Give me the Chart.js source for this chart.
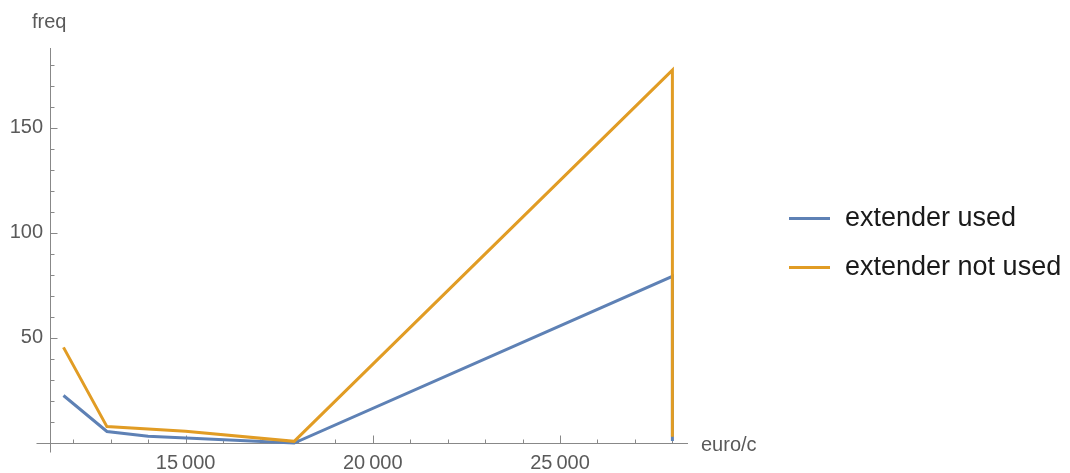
<!DOCTYPE html>
<html>
<head>
<meta charset="utf-8">
<script src="https://cdn.jsdelivr.net/npm/chart.js@4"></script>
<style>
    body { margin: 0; background: #fff; }
    #wrap { position: relative; width: 1070px; height: 473px; }
    #legende { position: absolute; left: 789px; top: 0; font-family: "Liberation Sans", Arial, sans-serif; }
    .item { position: absolute; left: 0; height: 30px; line-height: 30px; white-space: nowrap; font-size: 27px; color: #1a1a1a; }
    .trait { display: inline-block; width: 41px; height: 3px; vertical-align: middle; margin-right: 15px; }
</style>
</head>
<body>
<div id="wrap">
    <canvas id="freq" width="1070" height="473"></canvas>
    <div id="legende"></div>
</div>
<script>
const series = ["extender used", "extender not used"]
const couleurs = ["#5e81b5", "#e19c24"]

const usedX = [11740, 12900, 14000, 17900, 28000, 28000]
const usedY = [22.6, 5.5, 3.2, 0, 79.3, 1]
const notUsedX = [11740, 12900, 15000, 17900, 28000, 28000]
const notUsedY = [45.5, 7.8, 5.6, 0.8, 177.4, 3]

const xTicks = [15000, 20000, 25000]
const yTicks = [50, 100, 150]

const points = (xs, ys) => xs.map((x, i) => ({x: x, y: ys[i]}))
const espace = (v) => String(v).replace(/(\d{2})(\d{3})$/, "$1\u2009$2")

const police = "'Liberation Sans', Arial, sans-serif"
const gris = "#888"

// petits traits des axes vers l'interieur + axes qui depassent, facon Mathematica
const graduations = {
    id: "graduations",
    beforeDatasetsDraw(chart) {
        const ctx = chart.ctx
        const sx = chart.scales.x
        const sy = chart.scales.y
        const x0 = Math.round(chart.chartArea.left) + 0.5
        const y0 = Math.round(chart.chartArea.bottom) + 0.5
        ctx.save()
        ctx.strokeStyle = gris
        ctx.lineWidth = 1
        ctx.beginPath()
        ctx.moveTo(x0 - 14, y0)
        ctx.lineTo(x0, y0)
        ctx.moveTo(x0, y0)
        ctx.lineTo(x0, y0 + 9)
        for (let v = 12000; v <= 28000; v += 1000) {
            const px = Math.round(sx.getPixelForValue(v)) + 0.5
            const l = v % 5000 === 0 ? 8 : 4
            ctx.moveTo(px, y0)
            ctx.lineTo(px, y0 - l)
        }
        for (let v = 10; v <= 180; v += 10) {
            const py = Math.round(sy.getPixelForValue(v)) + 0.5
            const l = v % 50 === 0 ? 7 : 4
            ctx.moveTo(x0, py)
            ctx.lineTo(x0 + l, py)
        }
        ctx.stroke()
        ctx.restore()
    },
    afterDraw(chart) {
        const ctx = chart.ctx
        ctx.save()
        ctx.fillStyle = "#5a5a5a"
        ctx.font = "20px " + police
        ctx.textBaseline = "alphabetic"
        ctx.fillText("freq", 32, 28)
        ctx.fillText("euro/c", 701, 451)
        ctx.restore()
    }
}

new Chart(
    document.getElementById("freq"),
    {
        type: "line",
        data: {
            datasets: [
                {
                    label: series[0],
                    data: points(usedX, usedY),
                    borderColor: couleurs[0],
                    backgroundColor: couleurs[0],
                    borderWidth: 3,
                    pointRadius: 0,
                    tension: 0,
                    clip: false,
                    order: 2
                },
                {
                    label: series[1],
                    data: points(notUsedX, notUsedY),
                    borderColor: couleurs[1],
                    backgroundColor: couleurs[1],
                    borderWidth: 3,
                    pointRadius: 0,
                    tension: 0,
                    clip: false,
                    order: 1
                }
            ]
        },
        options: {
            responsive: false,
            animation: false,
            layout: {padding: {left: 0, right: 383, top: 48, bottom: 0}},
            plugins: {
                legend: {display: false},
                tooltip: {enabled: false}
            },
            scales: {
                x: {
                    type: "linear",
                    min: 11380,
                    max: 28390,
                    afterBuildTicks: (axis) => { axis.ticks = xTicks.map(v => ({value: v})) },
                    afterFit: (axis) => { axis.height = 30 },
                    grid: {display: false, drawTicks: false},
                    border: {display: true, color: gris, width: 1},
                    ticks: {
                        color: "#5a5a5a",
                        font: {family: police, size: 20},
                        padding: 8,
                        maxRotation: 0,
                        callback: (v) => espace(v)
                    }
                },
                y: {
                    type: "linear",
                    min: 0,
                    max: 187.9,
                    afterBuildTicks: (axis) => { axis.ticks = yTicks.map(v => ({value: v})) },
                    afterFit: (axis) => { axis.width = 50 },
                    grid: {display: false, drawTicks: false},
                    border: {display: true, color: gris, width: 1},
                    ticks: {
                        color: "#5a5a5a",
                        font: {family: police, size: 20},
                        padding: 7
                    }
                }
            }
        },
        plugins: [graduations]
    }
)

const legende = document.getElementById("legende")
series.forEach((nom, i) => {
    const item = document.createElement("div")
    item.className = "item"
    item.style.top = (202 + i * 49) + "px"
    const trait = document.createElement("span")
    trait.className = "trait"
    trait.style.background = couleurs[i]
    item.appendChild(trait)
    item.appendChild(document.createTextNode(nom))
    legende.appendChild(item)
})
</script>
</body>
</html>
